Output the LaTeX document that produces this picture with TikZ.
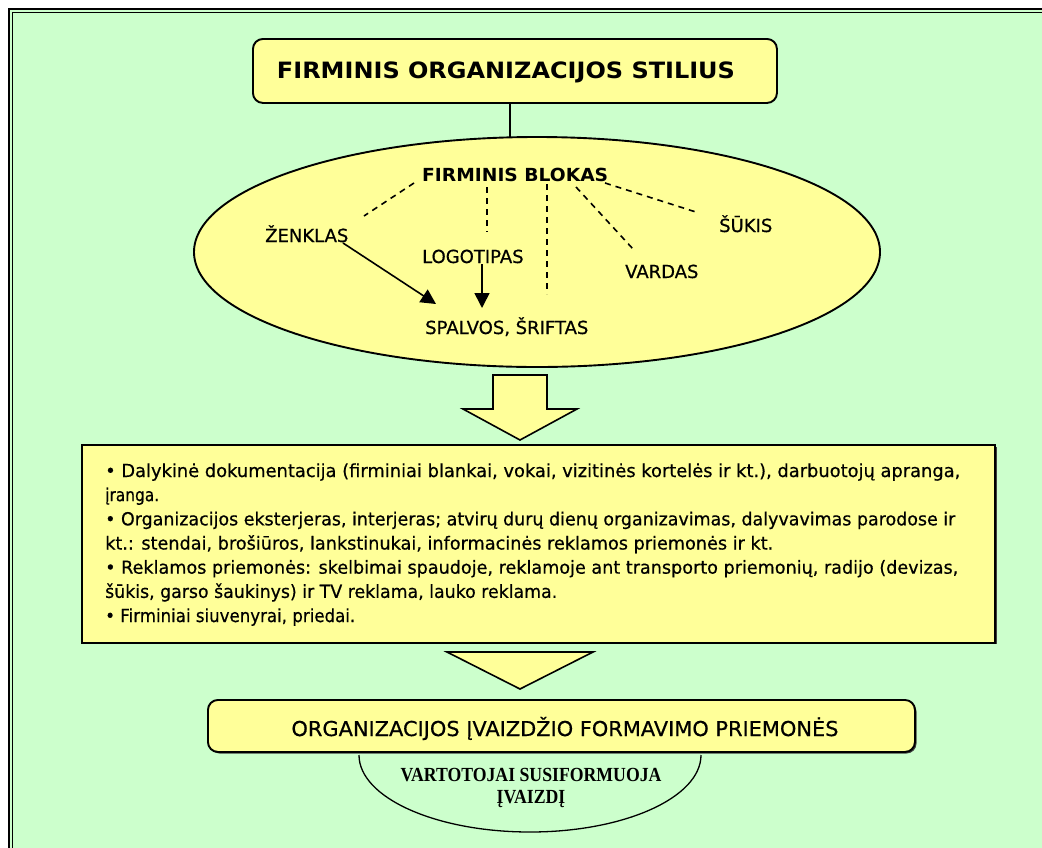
\documentclass[tikz,border=0pt]{standalone}
\usepackage{fontspec}
\setmainfont{DejaVu Sans}[UprightFeatures={FakeBold=0.6}]
\newfontfamily\serifbold{Liberation Serif}
\usetikzlibrary{shapes.geometric,arrows.meta}
\definecolor{bggreen}{HTML}{CCFFCC}
\definecolor{boxyellow}{HTML}{FFFF99}

\newsavebox\refline
% stretch a single line to a given width, keeping its height
\newcommand\fitw[2]{\resizebox{#1}{\height}{#2}}
\newcommand\bodysize{\fontsize{18}{24.17}\selectfont}
\newcommand\notesize{\serifbold\bfseries\fontsize{20}{22}\selectfont}

\begin{document}
% horizontal scale factor for the note under the last box
\sbox\refline{\notesize VARTOTOJAI SUSIFORMUOJA}%
\pgfmathsetmacro\notescale{261/\the\wd\refline}%
\begin{tikzpicture}[x=1pt,y=-1pt,
  outline/.style={draw=black,line width=1.9pt,fill=boxyellow},
  label/.style={inner sep=0pt,font=\fontsize{18}{22}\selectfont},
  dashconn/.style={line width=1.6pt,dash pattern=on 6pt off 5pt},
  arrowconn/.style={line width=1.6pt,-{Triangle[length=15pt,width=15pt]}},
  boxshadow/.style={fill=black!75,draw=none}]
\useasboundingbox (0,0) rectangle (1042,847);
\clip (0,0) rectangle (1042,847);

% page and double frame
\fill[white] (0,0) rectangle (1042,847);
\fill[bggreen] (9,8) rectangle (1060,870);
\draw[line width=2pt] (9.3,870) -- (9.3,9) -- (1060,9);
\draw[line width=0.9pt] (12.3,870) -- (12.3,12.3) -- (1060,12.3);

% corporate style header
\node[outline,rounded corners=10pt,anchor=north west,minimum width=524pt,minimum height=64pt,inner sep=0pt] (title) at (252,38) {};
\node[anchor=base,inner sep=0pt,font=\bfseries\fontsize{22.5}{26}\selectfont] (titletext) at (506,78) {\fitw{458pt}{FIRMINIS ORGANIZACIJOS STILIUS}};

% corporate block
\node[ellipse,outline,minimum width=686pt,minimum height=230pt,inner sep=0pt] (block) at (537,252) {};
\coordinate (stem) at (510,138);
\draw[line width=1.6pt] (title.south -| stem) -- (stem);

\node[label,font=\bfseries\fontsize{18}{22}\selectfont,anchor=base west] (blokas) at (422,181) {\fitw{186pt}{FIRMINIS BLOKAS}};
\node[label,anchor=base west] (zenklas) at (265,242) {ŽENKLAS};
\node[label,anchor=base west] (logo) at (422,263) {LOGOTIPAS};
\node[label,anchor=base west] (vardas) at (625,278) {VARDAS};
\node[label,anchor=base west] (sukis) at (719,232) {ŠŪKIS};
\node[label,anchor=base west] (spalvos) at (425,334) {SPALVOS, ŠRIFTAS};

% dashed links from the block title
\coordinate (d1a) at (414,183); \coordinate (d1b) at (364,216);
\coordinate (d2a) at (487,187); \coordinate (d2b) at (487,232);
\coordinate (d3a) at (547,184); \coordinate (d3b) at (547,294);
\coordinate (d4a) at (576,187); \coordinate (d4b) at (633,249);
\coordinate (d5a) at (605,183); \coordinate (d5b) at (699,213);
\draw[dashconn] (d1a) -- (d1b);
\draw[dashconn] (d2a) -- (d2b);
\draw[dashconn] (d3a) -- (d3b);
\draw[dashconn] (d4a) -- (d4b);
\draw[dashconn] (d5a) -- (d5b);

% solid arrows to colours and fonts
\coordinate (a1a) at (343,243); \coordinate (a1b) at (436,304);
\coordinate (a2a) at (482,264); \coordinate (a2b) at (482,308);
\draw[arrowconn] (a1a) -- (a1b);
\draw[arrowconn] (a2a) -- (a2b);

% block arrow down
\draw[outline,line width=1.6pt,line join=miter] (493,375) -- (547,375) -- (547,409) -- (577,409) -- (520,440) -- (463,409) -- (493,409) -- cycle;

% list of means
\fill[boxshadow] (83.5,446.5) rectangle (996.5,643.5);
\node[outline,anchor=north west,minimum width=913pt,minimum height=198pt,inner sep=0pt] (listbox) at (81,444) {};
\node[anchor=base west,inner sep=0pt] (items) at (105,477) {\bodysize\begin{tabular}[t]{@{}l@{}}
\fitw{855pt}{• Dalykinė dokumentacija (firminiai blankai, vokai, vizitinės kortelės ir kt.), darbuotojų apranga,}\\
\fitw{54pt}{įranga.}\\
\fitw{850pt}{• Organizacijos eksterjeras, interjeras; atvirų durų dienų organizavimas, dalyvavimas parodose ir}\\
\fitw{668pt}{kt.: stendai, brošiūros, lankstinukai, informacinės reklamos priemonės ir kt.}\\
\fitw{853pt}{• Reklamos priemonės: skelbimai spaudoje, reklamoje ant transporto priemonių, radijo (devizas,}\\
\fitw{452pt}{šūkis, garso šaukinys) ir TV reklama, lauko reklama.}\\
\fitw{250pt}{• Firminiai siuvenyrai, priedai.}
\end{tabular}};

% triangle down
\draw[outline,line width=1.6pt,line join=miter] (447,652) -- (593,652) -- (520,689) -- cycle;

% image forming means
\fill[boxshadow,rounded corners=10pt] (209.5,701.5) rectangle (916.5,753.5);
\node[outline,rounded corners=10pt,anchor=north west,minimum width=707pt,minimum height=52pt,inner sep=0pt] (means) at (207,699) {};
\node[anchor=base,inner sep=0pt,font=\fontsize{20.5}{24}\selectfont] (meanstext) at (565,736) {\fitw{547pt}{ORGANIZACIJOS ĮVAIZDŽIO FORMAVIMO PRIEMONĖS}};

% consumers' image
\draw[line width=1.3pt] (359,755) arc[start angle=180,end angle=0,x radius=171,y radius=77];
\node[anchor=base,inner sep=0pt] (consumers) at (531,781) {\scalebox{\notescale}[1]{\notesize VARTOTOJAI SUSIFORMUOJA}};
\node[anchor=base,inner sep=0pt] (formedimage) at (531,803) {\scalebox{\notescale}[1]{\notesize ĮVAIZDĮ}};
\end{tikzpicture}
\end{document}
